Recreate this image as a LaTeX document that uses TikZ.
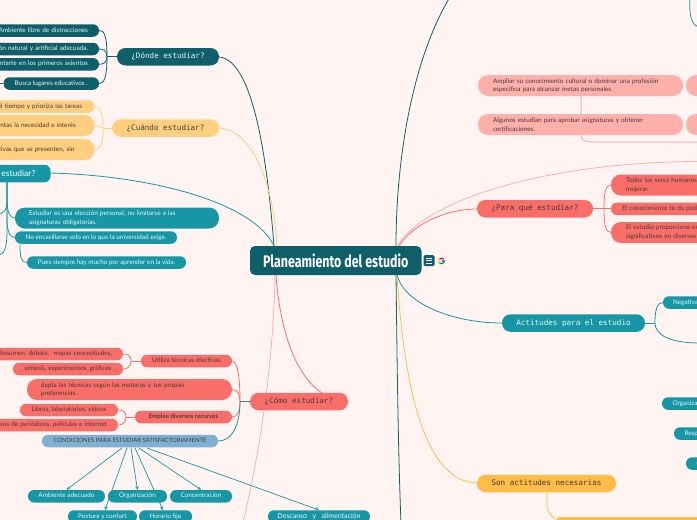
\documentclass[tikz,border=0pt]{standalone}
\usepackage{fontspec}
\setmainfont{Lato}
\newfontfamily\headfont[FakeStretch=0.74]{Fira Sans}
\newfontfamily\pixfont{DejaVu Sans Mono}
\definecolor{bgc}{HTML}{FFF4F2}
\definecolor{dteal}{HTML}{0F5F6B}
\definecolor{tealn}{HTML}{1797A6}
\definecolor{yel}{HTML}{FFCF7F}
\definecolor{yeld}{HTML}{FFBC47}
\definecolor{redn}{HTML}{FA6E69}
\definecolor{pinkn}{HTML}{FFB0AB}
\definecolor{bluen}{HTML}{7FB1D3}
\definecolor{darktx}{HTML}{4A3A3A}
\newcommand\pill[7]{%
  \pgfmathsetmacro\pillW{#4-#3}%
  \pgfmathsetmacro\pillC{(#3+#4)/2}%
  \node[#2,minimum width=\pillW pt,minimum height=#6pt] (#1) at (\pillC,#5) {#7};}
\tikzset{
  x=1pt,y=-1pt,
  base/.style={rectangle,inner sep=0pt,font=\fontsize{6.4}{8.6}\selectfont,rounded corners=6pt,draw=none,text height=4.6pt,text depth=1.5pt},
  dt/.style={base,fill=dteal,text=white!90!tealn},
  tl/.style={base,fill=tealn,text=white!90!tealn},
  ye/.style={base,fill=yel,text=darktx},
  re/.style={base,fill=redn,text=darktx},
  pk/.style={base,fill=pinkn,text=darktx},
  bl/.style={base,fill=bluen,text=darktx},
  topic/.style={font=\pixfont\fontsize{7.6}{9}\selectfont,rounded corners=8.5pt,text height=5.8pt,text depth=1.6pt},
  two/.style={align=left,rounded corners=10pt,text height=,text depth=},
  wd/.style={text width=#1pt},
  rt/.style={align=right,text width=#1pt},
  con/.style={line width=0.8pt},
  linkarrow/.style={line width=0.7pt,draw=tealn,-stealth},
  kwide/.style={font=\fontsize{7}{8}\selectfont},
}
\begin{document}
\begin{tikzpicture}
\useasboundingbox (0,0) rectangle (697,520);
\clip (0,0) rectangle (697,520);
\fill[bgc] (0,0) rectangle (697,520);
\coordinate (offtl) at (450,-3);
\coordinate (offb) at (401,523);
\coordinate (offtr) at (700,27);
\coordinate (offp) at (700,161.5);
\coordinate (offp2) at (700,142);
\coordinate (offa) at (700,343);
\coordinate (offl) at (-3,83.5);
\coordinate (offe1) at (-3,214);
\coordinate (offe2) at (-3,255);
\coordinate (offc) at (243,523);
\coordinate (ctop1) at (274,246);
\coordinate (ctop2) at (277,246);

% branches behind nodes
\draw[con,draw=dteal] (396,246) .. controls (396,160) and (412,60) .. (offtl);
\draw[con,draw=dteal] (396,275) .. controls (397,350) and (398,450) .. (offb);
\draw[con,draw=yeld] (397,275) .. controls (403,370) and (420,483) .. (478,483);
\draw[con,draw=tealn] (397,275) .. controls (405,305) and (455,323) .. (502,323);
\draw[con,draw=redn] (399,246) .. controls (412,225) and (445,209) .. (477,209);
\draw[con,draw=pinkn] (397,246) .. controls (430,195) and (560,161.5) .. (offp);
\draw[con,draw=pinkn] (275,275) .. controls (274,340) and (265,430) .. (offc);
\draw[con,draw=redn] (276,275) .. controls (280,330) and (295,375) .. (322,393);
\draw[con,draw=dteal] (219,57) .. controls (255,60) and (268,170) .. (ctop1);
\draw[con,draw=yel] (219,128) .. controls (258,130) and (275,200) .. (ctop2);
\draw[con,draw=tealn] (50,173) .. controls (160,176) and (255,205) .. (ctop1);

% central node
\node[rectangle,fill=dteal,text=white,rounded corners=5pt,minimum width=171.5pt,minimum height=29pt,inner sep=0pt,font=\headfont\bfseries\fontsize{16.8}{18}\selectfont] (main) at (335.75,260.5) {Planeamiento del estudio};
\node[rectangle,fill=dteal,rounded corners=1.5pt,minimum width=11pt,minimum height=11pt,inner sep=0pt] (note) at (429,260.5) {};
\foreach \yy in {-2.4,0,2.4} \draw[white,line width=0.7pt] (425.8,260.5+\yy) -- (432.2,260.5+\yy);
% Google mark
\draw[line width=1.1pt,draw=red!80!black] (439.35,259.2) arc[start angle=140,end angle=40,radius=2.8pt];
\draw[line width=1.1pt,draw=yeld] (439.35,259.2) arc[start angle=140,end angle=220,radius=2.8pt];
\draw[line width=1.1pt,draw=green!60!black] (439.35,262.8) arc[start angle=220,end angle=320,radius=2.8pt];
\draw[line width=1.1pt,draw=blue!70!cyan] (443.64,262.8) arc[start angle=320,end angle=360,radius=2.8pt] -- (441.7,261);

% Donde
\pill{donde}{dt,topic}{117}{219}{56.75}{17.5}{¿Dónde estudiar?}
\pill{d1}{dt,rt=92}{-15}{99}{30.5}{12.5}{Ambiente libre de distracciones}
\pill{d2}{dt,rt=92}{-15}{99}{49}{12.5}{ón natural y artificial adecuada.}
\pill{d3}{dt,rt=92}{-15}{99}{64.25}{12.5}{ntarte en los primeros asientos}
\pill{d4}{dt}{3.5}{99}{83.5}{12.5}{Busca lugares educativos .}
\draw[con,draw=dteal] (offl) -- (d4);
\draw[con,draw=dteal] (donde.west) -- (107,56.75);
\draw[con,draw=dteal] (107,56.75) .. controls (107,35) and (104,30.5) .. (d1.east);
\draw[con,draw=dteal] (107,56.75) .. controls (107,51) and (104,49) .. (d2.east);
\draw[con,draw=dteal] (107,56.75) .. controls (107,62) and (104,64.25) .. (d3.east);
\draw[con,draw=dteal] (107,56.75) .. controls (107,78) and (104,83.5) .. (d4.east);

% Cuando
\pill{cuando}{ye,topic}{112}{219}{128}{17.5}{¿Cuándo estudiar?}
\pill{c1}{ye,rt=89.5}{-20}{94.5}{106.5}{12.5}{el tiempo y prioriza las tareas}
\pill{c2}{ye,rt=83.5,two}{-20}{94.5}{125.5}{21}{ientas la necesidad e interés\\[8.6pt]}
\pill{c3}{ye,rt=83.5,two}{-20}{94.5}{149.5}{21}{ativas que se presenten, sin\\[8.6pt]}
\draw[con,draw=yel] (cuando.west) -- (103,128);
\draw[con,draw=yel] (103,128) .. controls (103,112) and (100,106.5) .. (c1.east);
\draw[con,draw=yel] (103,128) -- (c2.east);
\draw[con,draw=yel] (103,128) .. controls (103,145) and (100,149.5) .. (c3.east);

% Estudiar
\pill{est}{tl}{-30}{50.5}{173.5}{17.5}{}
\node[inner sep=0pt,text=white,font=\fontsize{8.5}{10}\selectfont,anchor=east] (estt) at (35.5,173.5) {estudiar?};
\pill{e1}{tl,two,wd=176}{15}{219}{218}{21}{Estudiar es una elección personal, no limitarse a las\\asignaturas obligatorias.}
\pill{e2}{tl}{15}{177}{237.5}{12.5}{No encasillarse solo en lo que la universidad exige.}
\pill{e3}{tl}{27}{186}{262.5}{12.5}{Pues siempre hay mucho por aprender en la vida.}
\coordinate (etr) at (7,182);
\draw[con,draw=tealn] (etr) -- (7,200) .. controls (7,210) and (4,214) .. (offe1);
\draw[con,draw=tealn] (etr) -- (7,230) .. controls (7,250) and (4,255) .. (offe2);
\draw[con,draw=tealn] (etr) -- (7,200) .. controls (7,212) and (10,218) .. (e1.west);
\draw[con,draw=tealn] (etr) -- (7,218) .. controls (7,232) and (10,237.5) .. (e2.west);
\draw[con,draw=tealn] (20,243.5) .. controls (20,258) and (21,262.5) .. (e3.west);

% Como
\pill{como}{re,topic}{250}{348}{401.5}{17.5}{¿Cómo estudiar?}
\pill{m1}{re}{141}{232}{361}{12.5}{Utiliza técnicas efectivas}
\pill{m2}{re,two,wd=177}{27}{232}{389.5}{21}{dapta las técnicas según las materias y tus propias\\preferencias.}
\pill{m3}{re,font=\fontsize{6.2}{8.6}\selectfont\bfseries}{135}{232}{417}{12.5}{Emplea diversos recursos}
\pill{m4}{bl,font=\fontsize{5.95}{8}\selectfont}{42}{218}{441}{12.5}{CONDICIONES PARA ESTUDIAR SATISFACTORIAMENTE}
\pill{r1}{re,rt=121}{-20}{123}{354}{12.5}{Resumen, debate,\ \ mapas conceptuales,}
\pill{r2}{re}{13}{123}{369}{12.5}{síntesis, experimentos, gráficos}
\pill{l1}{re}{20}{118}{410}{12.5}{Libros, laboratorios, videos}
\pill{l2}{re,rt=116}{-20}{118}{425}{12.5}{ivos de periódicos, películas e internet}
\draw[con,draw=redn] (m1.west) -- (131,361);
\draw[con,draw=redn] (131,361) .. controls (131,356) and (128,354) .. (r1.east);
\draw[con,draw=redn] (131,361) .. controls (131,366) and (128,369) .. (r2.east);
\draw[con,draw=redn] (m3.west) -- (126,417);
\draw[con,draw=redn] (126,417) .. controls (126,412) and (123,410) .. (l1.east);
\draw[con,draw=redn] (126,417) .. controls (126,422) and (123,425) .. (l2.east);
\draw[con,draw=gray!70!darktx] (como.west) -- (240,401.5);
\draw[con,draw=redn] (240,401.5) .. controls (240,380) and (238,361) .. (m1.east);
\draw[con,draw=redn] (240,401.5) .. controls (240,395) and (238,389.5) .. (m2.east);
\draw[con,draw=redn] (240,401.5) .. controls (240,410) and (238,417) .. (m3.east);
\draw[con,draw=tealn] (240,401.5) .. controls (240,425) and (232,441) .. (m4.east);

\pill{k6}{tl,kwide}{268}{370}{516.5}{12.5}{Descanso\ \ \ y\ \ \ alimentación}
\pill{k1}{tl}{28}{105}{496.25}{12.5}{Ambiente adecuado}
\pill{k2}{tl}{108}{167}{496.25}{12.5}{Organización}
\pill{k3}{tl}{170}{232}{496.25}{12.5}{Concentración}
\pill{k4}{tl}{68}{137}{516.5}{12.5}{Postura y confort}
\pill{k5}{tl}{139}{192}{516.5}{12.5}{Horario fijo}
\draw[linkarrow] (122,448) -- (k1.north);
\draw[linkarrow] (127,448) -- (105,510);
\draw[linkarrow] (131,448) -- (k2.north);
\draw[linkarrow] (135,448) -- (163,510);
\draw[linkarrow] (139,448) -- (k3.north);
\draw[linkarrow] (147,448) -- (k6.north);

% Para que
\pill{para}{re,topic}{477}{593}{208.75}{17.5}{¿Para qué estudiar?}
\pill{p1}{re,two,wd=186}{611}{827}{185}{21}{Todos los seres humanos\\mejorar.}
\pill{p2}{re,wd=182}{611}{815}{208.75}{12.5}{El conocimiento te da pode}
\pill{p3}{re,two,wd=186}{611}{827}{232.5}{21}{El estudio proporciona est\\significativos en diversas}
\draw[con,draw=redn] (para.east) -- (604,208.75);
\draw[con,draw=redn] (604,208.75) .. controls (604,195) and (605,185) .. (p1.west);
\draw[con,draw=redn] (604,208.75) -- (p2.west);
\draw[con,draw=redn] (604,208.75) .. controls (604,222) and (605,232.5) .. (p3.west);

\pill{a1}{pk,two,wd=175}{478}{683}{85.5}{21}{Ampliar su conocimiento cultural o dominar una profesión\\específica para alcanzar metas personales.}
\pill{a2}{pk,two,wd=175}{478}{683}{124.5}{21}{Algunos estudian para aprobar asignaturas y obtener\\certificaciones.}
\pill{a3}{pk,rounded corners=10pt}{686}{780}{85.5}{21}{}
\pill{a4}{pk,rounded corners=10pt}{686}{780}{124.5}{21}{}
\draw[line width=1pt,draw=pinkn] (581,96) -- (581,135) .. controls (581,140) and (584,142) .. (595,142) -- (offp2);
\draw[con,draw=tealn] (690,-3) .. controls (689,15) and (691,26) .. (offtr);

% Actitudes
\pill{act}{tl,topic}{502}{645}{323}{17.5}{Actitudes para el estudio}
\pill{n1}{tl,wd=97}{663}{780}{302.5}{12.5}{Negativa}
\pill{n2}{tl,wd=97}{662}{780}{403.5}{12.5}{Organiza}
\pill{n3}{tl,wd=85}{674}{780}{433.5}{12.5}{Resp}
\pill{n4}{tl,wd=73}{686}{780}{463.5}{12.5}{(}
\draw[con,draw=tealn] (act.east) -- (655,323);
\draw[con,draw=tealn] (655,323) .. controls (655,310) and (657,302.5) .. (n1.west);
\draw[con,draw=tealn] (655,323) .. controls (655,335) and (670,343) .. (offa);

% Son actitudes
\pill{son}{base,fill=yeld,text=darktx,topic}{477}{616}{483.5}{17.5}{Son actitudes necesarias}
\pill{big}{base,fill=yeld}{555}{800}{535}{36}{}
\draw[con,draw=yeld] (547,492) -- (547,504) .. controls (547,510) and (549,514) .. (555,519);
\end{tikzpicture}
\end{document}
